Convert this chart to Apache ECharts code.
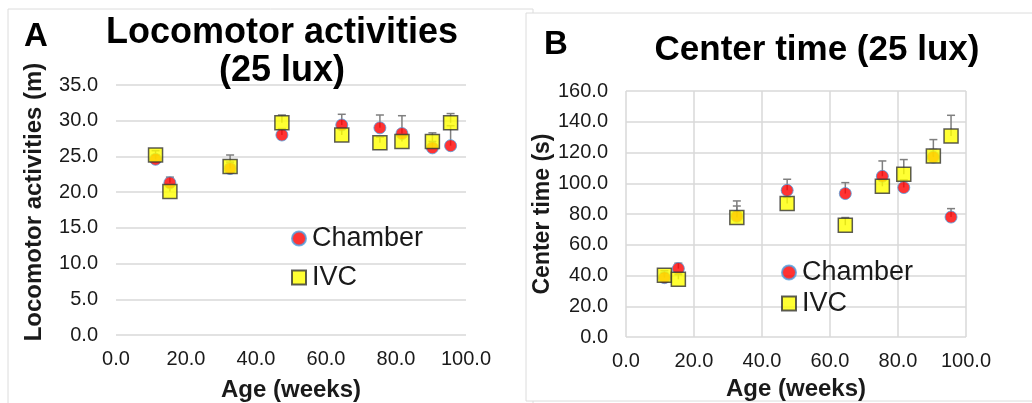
<!DOCTYPE html>
<html>
<head>
<meta charset="utf-8">
<script src="https://cdn.jsdelivr.net/npm/echarts@6/dist/echarts.min.js"></script>
<style>
html,body{margin:0;padding:0;background:#fff;}
#chart{width:1032px;height:403px;}
</style>
</head>
<body>
<div id="chart"></div>
<script>
// ---- data ----
const weeks = [11.3, 15.4, 32.6, 47.4, 64.5, 75.4, 81.7, 90.4, 95.6];

const locoChamber = [24.6, 21.3, 23.3, 28.0, 29.4, 29.0, 28.2, 26.2, 26.5];
const locoChamberErr = [0.6, 0.8, 0.9, 0.9, 1.5, 1.8, 2.5, 0.9, 2.8];
const locoIVC = [25.2, 20.1, 23.6, 29.7, 28.0, 26.9, 27.1, 27.1, 29.7];
const locoIVCErr = [0.6, 0.6, 1.6, 1.1, 0.8, 0.8, 0.8, 1.2, 1.3];

const centerChamber = [38.6, 44.5, 78.5, 95.4, 93.3, 104.5, 97.2, 117.0, 78.0];
const centerChamberErr = [3.0, 3.5, 6.7, 7.2, 7.1, 10.0, 5.0, 5.0, 5.5];
const centerIVC = [40.1, 37.5, 77.7, 86.8, 72.7, 98.0, 105.8, 117.7, 130.7];
const centerIVCErr = [3.0, 3.0, 10.8, 4.0, 5.0, 4.0, 9.6, 10.7, 13.5];

const xTicks = {min: 0, max: 100, interval: 20};
const locoTicks = {min: 0, max: 35, interval: 5};
const centerTicks = {min: 0, max: 160, interval: 20};

const titleA = ['Locomotor activities', '(25 lux)'];
const titleB = 'Center time (25 lux)';
const seriesNames = ['Chamber', 'IVC'];

// ---- helpers ----
const FONT = "'Liberation Sans', Arial, Helvetica, sans-serif";
const TXT = '#1a1a1a';
const GRIDC = '#d9d9d9';

function pts(vals) { return weeks.map((w, i) => [w, vals[i]]); }
function errPts(vals, errs) { return weeks.map((w, i) => [w, vals[i], vals[i] + errs[i]]); }

function errRender(params, api) {
  const x = api.value(0), y = api.value(1), top = api.value(2);
  const p0 = api.coord([x, y]);
  const p1 = api.coord([x, top]);
  const hw = 4;
  const st = {stroke: '#7f7f7f', lineWidth: 1.5};
  return {
    type: 'group',
    children: [
      {type: 'line', shape: {x1: p0[0], y1: p0[1], x2: p1[0], y2: p1[1]}, style: st},
      {type: 'line', shape: {x1: p1[0] - hw, y1: p1[1], x2: p1[0] + hw, y2: p1[1]}, style: st}
    ]
  };
}

const fmt = v => v.toFixed(1);

function xAxisCfg(gridIndex, showSplit, nameGap, labelMargin) {
  return {
    type: 'value', gridIndex: gridIndex,
    min: xTicks.min, max: xTicks.max, interval: xTicks.interval,
    name: 'Age (weeks)', nameLocation: 'middle', nameGap: nameGap,
    nameTextStyle: {fontFamily: FONT, fontSize: 24, fontWeight: 'bold', color: TXT},
    axisLine: {show: false}, axisTick: {show: false},
    axisLabel: {formatter: fmt, fontFamily: FONT, fontSize: 20, color: TXT, margin: labelMargin},
    splitLine: {show: showSplit, lineStyle: {color: GRIDC, width: 1.5}}
  };
}
function yAxisCfg(gridIndex, ticks, name, nameGap, nameSize, namePad) {
  return {
    type: 'value', gridIndex: gridIndex,
    min: ticks.min, max: ticks.max, interval: ticks.interval,
    name: name, nameLocation: 'middle', nameGap: nameGap, nameRotate: 90,
    nameTextStyle: {fontFamily: FONT, fontSize: nameSize, fontWeight: 'bold', color: TXT, padding: namePad},
    axisLine: {show: false}, axisTick: {show: false},
    axisLabel: {formatter: fmt, fontFamily: FONT, fontSize: 20, color: TXT, margin: 18},
    splitLine: {show: true, lineStyle: {color: GRIDC, width: 1.5}}
  };
}

const chamberStyle = {color: '#ff0000', borderColor: '#4f9fe0', borderWidth: 1};
const ivcStyle = {color: '#ffff00', borderColor: '#333333', borderWidth: 1.5};

function panelSeries(idx, chamber, chamberErr, ivc, ivcErr) {
  return [
    {type: 'custom', name: 'Chamber SEM', xAxisIndex: idx, yAxisIndex: idx, z: 1,
     renderItem: errRender, data: errPts(chamber, chamberErr), silent: true},
    {type: 'custom', name: 'IVC SEM', xAxisIndex: idx, yAxisIndex: idx, z: 1,
     renderItem: errRender, data: errPts(ivc, ivcErr), silent: true},
    {type: 'scatter', name: seriesNames[0], xAxisIndex: idx, yAxisIndex: idx, z: 3,
     symbol: 'circle', symbolSize: 12, itemStyle: chamberStyle, data: pts(chamber)},
    {type: 'scatter', name: seriesNames[1], xAxisIndex: idx, yAxisIndex: idx, z: 4,
     symbol: 'rect', symbolSize: 14, itemStyle: ivcStyle, data: pts(ivc)}
  ];
}

function legendCfg(left, top, gap) {
  return {
    data: [{name: seriesNames[0], icon: 'circle'}, {name: seriesNames[1], icon: 'rect'}],
    orient: 'vertical', left: left, top: top, itemGap: gap,
    itemWidth: 14, itemHeight: 14, padding: 0,
    textStyle: {fontFamily: FONT, fontSize: 27, color: TXT, padding: [0, 0, 0, 1]},
    selectedMode: false
  };
}

const chart = echarts.init(document.getElementById('chart'), null, {renderer: 'canvas'});
chart.setOption({
  backgroundColor: '#ffffff',
  animation: false,
  graphic: [
    {type: 'rect', z: -10, shape: {x: 8, y: 9, width: 525, height: 420},
     style: {fill: '#ffffff', stroke: '#dcdcdc', lineWidth: 1}},
    {type: 'rect', z: -9, shape: {x: 526, y: 13, width: 520, height: 388},
     style: {fill: '#ffffff', stroke: '#dcdcdc', lineWidth: 1}},
    {type: 'text', z: 10, x: 24, y: 37,
     style: {text: 'A', font: "bold 33px " + FONT, fill: '#000', textAlign: 'left', textVerticalAlign: 'middle'}},
    {type: 'text', z: 10, x: 282, y: 33,
     style: {text: titleA[0], font: "bold 36px " + FONT, fill: '#000', textAlign: 'center', textVerticalAlign: 'middle'}},
    {type: 'text', z: 10, x: 282, y: 71,
     style: {text: titleA[1], font: "bold 36px " + FONT, fill: '#000', textAlign: 'center', textVerticalAlign: 'middle'}},
    {type: 'text', z: 10, x: 544, y: 45,
     style: {text: 'B', font: "bold 33px " + FONT, fill: '#000', textAlign: 'left', textVerticalAlign: 'middle'}},
    {type: 'text', z: 10, x: 817, y: 50,
     style: {text: titleB, font: "bold 35px " + FONT, fill: '#000', textAlign: 'center', textVerticalAlign: 'middle'}}
  ],
  grid: [
    {left: 116, right: 566, top: 85, bottom: 68, outerBoundsMode: 'none', containLabel: false},
    {left: 626, right: 66, top: 91, bottom: 66, outerBoundsMode: 'none', containLabel: false}
  ],
  xAxis: [xAxisCfg(0, false, 43, 14), xAxisCfg(1, true, 40, 14)],
  yAxis: [
    yAxisCfg(0, locoTicks, 'Locomotor activities (m)', 70, 24, [0, 0, 0, 16]),
    yAxisCfg(1, centerTicks, 'Center time (s)', 70, 23, 0)
  ],
  legend: [legendCfg(291, 225, 12), legendCfg(781, 259, 4)],
  series: [].concat(
    panelSeries(0, locoChamber, locoChamberErr, locoIVC, locoIVCErr),
    panelSeries(1, centerChamber, centerChamberErr, centerIVC, centerIVCErr)
  )
});
</script>
</body>
</html>
